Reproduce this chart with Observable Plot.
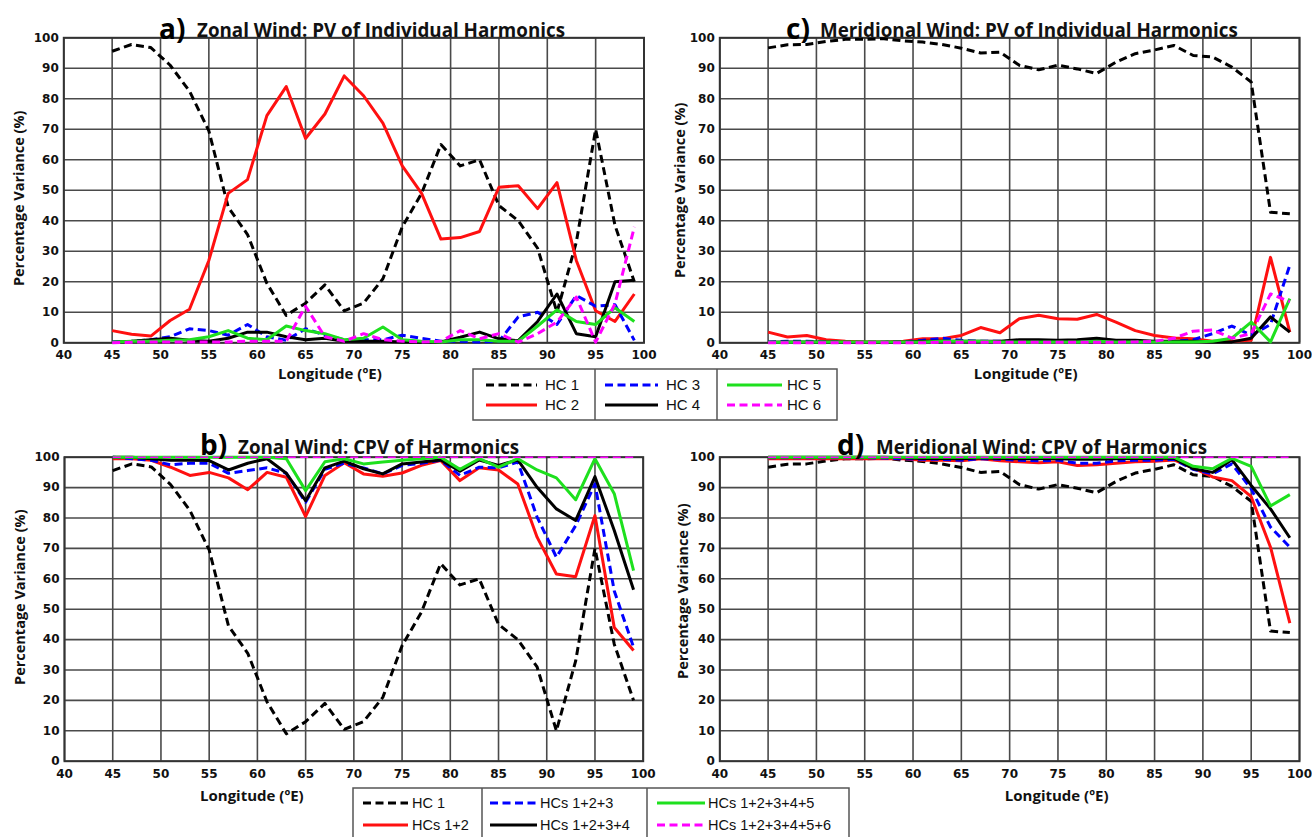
<!DOCTYPE html>
<html><head><meta charset="utf-8">
<script src="https://cdn.jsdelivr.net/npm/d3@7"></script>
<script src="https://cdn.jsdelivr.net/npm/@observablehq/plot@0.6"></script>
<style>
body{margin:0;background:#fff;}
#page{position:relative;width:1312px;height:837px;overflow:hidden;background:#fff;}
.panel{position:absolute;}
#overlay{position:absolute;left:0;top:0;pointer-events:none;}
</style></head><body><div id="page"></div>
<script>
// ---------- data ----------
const lon = [45,47,49,51,53,55,57,59,61,63,65,67,69,71,73,75,77,79,81,83,85,87,89,91,93,95,97,99];
const xTicks = [40,45,50,55,60,65,70,75,80,85,90,95,100];
const yTicks = [0,10,20,30,40,50,60,70,80,90,100];

// a) Zonal wind: PV of individual harmonics
const zonalHC1 = [95.6,97.8,96.8,91,82.5,69.5,44.5,35.5,19.5,9,13,19,10.5,13,21,38,49,65,58,60,45,40,31,10,33,70,38.5,20];
const zonalHC2 = [4,2.8,2.2,7.3,11,27,49,53.5,74.5,84,67,75,87.5,81,72,58,49,34,34.5,36.5,51,51.5,44,52.5,27,10.5,7,16];
const zonalHC3 = [0.3,0.5,1,2,4.6,4,2.5,6,2,0.8,4.6,2.5,1,1,1,2.5,1.5,0.5,0.5,0.3,0.5,8.5,10,6,15.5,12,12.5,0.8];
const zonalHC4 = [0.2,0.5,1,1.5,0.8,0.5,1.5,3.5,3.5,2,1,1.5,0.5,0.5,0.5,0.3,0.2,0.3,1.8,3.5,1.3,0.7,7,16,3,2,20,20.5];
const zonalHC5 = [0.2,0.5,0.5,0.8,1,2,4,1.5,1,5.5,4,3,1,1.5,5.2,1,0.5,0.3,1,1,0.5,0.5,5.5,10.8,7,6,11.5,7];
const zonalHC6 = [0,0.2,0.3,0.3,0.3,0.3,0.3,0.5,0.5,0.5,12,2,0.5,3,1,0.5,0.3,0.5,4,1.3,3,0.2,3,6.8,15,0.2,12.8,38];

// c) Meridional wind: PV of individual harmonics
const meridHC1 = [96.7,97.7,97.8,98.8,99.5,99.5,99.7,99,98.6,97.8,96.6,95,95.3,91,89.5,91,89.8,88.3,92,94.8,96,97.5,94.2,93.7,90.4,85.5,42.8,42.3];
const meridHC2 = [3.5,1.9,2.4,1,0.5,0.3,0.3,0.5,1.3,1.3,2.4,5,3.3,7.9,9,7.9,7.7,9.3,6.8,4,2.4,1.6,1.3,0.5,0.5,0.8,28,3.5];
const meridHC3 = [0.3,0.5,0.5,0.3,0.2,0.2,0.2,0.3,0.8,1.5,0.8,0.5,0.5,0.5,0.5,0.5,0.5,0.5,0.3,0.3,0.3,0.5,1,3,5.5,2.5,6,25.5];
const meridHC4 = [0.2,0.3,0.3,0.3,0.2,0.2,0.2,0.3,0.5,0.5,0.5,0.5,0.5,1,1,0.8,1,1.5,0.8,0.8,0.5,0.5,0.5,0.3,0.3,1.5,8.5,3.5];
const meridHC5 = [0.2,0.2,0.3,0.3,0.3,0.3,0.3,0.3,0.3,0.5,0.5,0.5,0.3,0.3,0.3,0.3,0.3,0.5,0.3,0.3,0.3,0.3,0.3,0.5,1.5,6.8,0.3,14.5];
const meridHC6 = [0,0,0,0,0,0,0,0,0,0.2,0.2,0.2,0.2,0.2,0.2,0.2,0.2,0.2,0.2,0.3,0.5,1.5,3.8,4.2,1.5,3,16,13.5];

// b) Zonal wind: CPV of harmonics
const cpvZ12 = [99.5,99.5,99,96.7,94,95,93.2,89.3,95,93.4,80.5,94,98.2,94.5,93.7,94.8,97.3,98.9,92.3,96.5,95.8,91.2,73.7,61.6,60.7,80.8,44,36.4];
const cpvZ123 = [100,99.5,99,97.5,98,98,94.7,95.6,96.5,94.7,85.2,96,98,96.5,94.5,97.3,98,99,94,96.7,96.5,98.4,80.3,67.1,77.5,91.2,56,37.5];
const cpvZ1234 = [100,100,99.5,99,99,98.9,95.8,98,99.5,94.7,85.7,96.5,98.7,96.2,94.5,97.8,98.4,99.1,95.4,99.1,97.3,99.1,90.1,83,79.2,93.6,75.9,56.4];
const cpvZ12345 = [100,100,100,100,100,100,100,100,100,99.5,89,98.5,99.5,97.8,98.4,99,99.5,100,96,99.5,96.7,99.5,95.8,93.2,86,99.5,88,62.7];
const cpvZ123456 = [100,100,100,100,100,100,100,100,100,100,100,100,100,100,100,100,100,100,100,100,100,100,100,100,100,100,100,100];

// d) Meridional wind: CPV of harmonics
const cpvM12 = [99.5,99.5,99.5,99.5,99.5,99.5,99.5,99.5,99,99,98.8,99.5,98.8,98.5,98.2,98.5,97.3,97.5,98,98.5,98.7,99.1,96.5,93.5,92.3,87,70.4,45.4];
const cpvM123 = [99.8,99.8,99.8,99.8,99.8,99.8,99.7,99.5,99.3,99.3,99,99.5,99.3,99,98.8,99,98,98,98.8,99,99,99.3,96,94.5,97.8,89.6,77,70.4];
const cpvM1234 = [100,100,100,100,100,100,100,99.8,99.6,99.6,99.5,99.8,99.6,99.5,99.5,99.5,99.3,99.3,99.5,99.6,99.6,99.7,96.2,95,99.2,90.7,83,73.5];
const cpvM12345 = [100,100,100,100,100,100,100,100,100,100,100,100,100,100,100,100,100,100,100,100,100,100,97,96.2,99.6,97,84,87.7];
const cpvM123456 = [100,100,100,100,100,100,100,100,100,100,100,100,100,100,100,100,100,100,100,100,100,100,100,100,100,100,100,100];

const legendTop = ["HC 1","HC 2","HC 3","HC 4","HC 5","HC 6"];
const legendBottom = ["HC 1","HCs 1+2","HCs 1+2+3","HCs 1+2+3+4","HCs 1+2+3+4+5","HCs 1+2+3+4+5+6"];
const titles = [
  {tag:"a)", text:"Zonal Wind: PV of Individual Harmonics"},
  {tag:"b)", text:"Zonal Wind: CPV of Harmonics"},
  {tag:"c)", text:"Meridional Wind: PV of Individual Harmonics"},
  {tag:"d)", text:"Meridional Wind: CPV of Harmonics"}
];
const xLabel = "Longitude (ºE)";
const yLabel = "Percentage Variance (%)";

// ---------- styles ----------
const BLACK = "#000", RED = "#ff1010", BLUE = "#0000ff", GREEN = "#1ee01e", MAGENTA = "#ff00ff";
const DASH = "8,4.5";
const styles = [
  {color: BLACK, dash: DASH},
  {color: RED},
  {color: BLUE, dash: DASH},
  {color: BLACK},
  {color: GREEN},
  {color: MAGENTA, dash: DASH}
];

function rows(vals){ return lon.map((l,i)=>({lon:l, v:vals[i]})); }

const page = document.getElementById("page");

function makePanel(cfg){
  const {left, top, width, height, frame, series, xdx, xdy, ydx, ydy, order} = cfg;
  const [fx0, fy0, fx1, fy1] = frame;
  const lineMarks = order.map(k => {
    const st = styles[k];
    return Plot.line(rows(series[k]), {
      x: "lon", y: "v", stroke: st.color,
      strokeWidth: (cfg.thin && k === 5) ? 1.6 : 3,
      strokeDasharray: st.dash, strokeLinejoin: "round", strokeLinecap: "butt"
    });
  });
  const chart = Plot.plot({
    width, height,
    marginLeft: fx0 - left, marginRight: left + width - fx1,
    marginTop: fy0 - top, marginBottom: top + height - fy1,
    x: {domain: [40, 100], ticks: xTicks, tickSize: 0, tickPadding: 8, label: null, tickFormat: d => String(d)},
    y: {domain: [0, 100], ticks: yTicks, tickSize: 0, tickPadding: 5, label: null, tickFormat: d => String(d)},
    style: {fontFamily: "DejaVu Sans", fontWeight: "bold", fontSize: "12px", color: "#111", background: "transparent", overflow: "visible"},
    marks: [
      Plot.ruleX(xTicks, {stroke: "#4a4a4a", strokeWidth: 1.6}),
      Plot.ruleY(yTicks, {stroke: "#4a4a4a", strokeWidth: 1.6}),
      Plot.frame({stroke: "#333", strokeWidth: 2}),
      ...lineMarks,
      Plot.text([xLabel], {frameAnchor: "bottom", text: d => d, textAnchor: "middle", lineAnchor: "middle", dx: xdx, dy: xdy, fontFamily: "Open Sans", fontWeight: "bold", fontSize: 15, fill: "#111"}),
      Plot.text([yLabel], {frameAnchor: "left", text: d => d, textAnchor: "middle", lineAnchor: "middle", rotate: -90, dx: ydx, dy: ydy, fontFamily: "Open Sans", fontWeight: "bold", fontSize: 14.5, fill: "#111"})
    ]
  });
  const div = document.createElement("div");
  div.className = "panel";
  div.style.left = left + "px"; div.style.top = top + "px";
  div.style.width = width + "px"; div.style.height = height + "px";
  div.appendChild(chart);
  page.appendChild(div);
}

makePanel({left:0, top:0, width:656, height:390, frame:[63.3,37.3,643.5,342.3],
  series:[zonalHC1,zonalHC2,zonalHC3,zonalHC4,zonalHC5,zonalHC6], order:[0,1,2,3,4,5],
  xdx:-24, xdy:31, ydx:-44, ydy:8});
makePanel({left:656, top:0, width:656, height:390, frame:[719.3,37.3,1299,342.3],
  series:[meridHC1,meridHC2,meridHC3,meridHC4,meridHC5,meridHC6], order:[0,1,2,3,4,5],
  xdx:16, xdy:31, ydx:-39, ydy:0});
makePanel({left:0, top:418, width:656, height:419, frame:[64,456.7,642.7,760.7],
  series:[zonalHC1,cpvZ12,cpvZ123,cpvZ1234,cpvZ12345,cpvZ123456], order:[0,1,2,3,4,5], thin:true,
  xdx:-102, xdy:35, ydx:-44, ydy:-12});
makePanel({left:656, top:418, width:656, height:419, frame:[719.3,456.7,1299,760.7],
  series:[meridHC1,cpvM12,cpvM123,cpvM1234,cpvM12345,cpvM123456], order:[0,1,2,3,4,5], thin:true,
  xdx:47, xdy:35, ydx:-36, ydy:-18});

// ---------- overlay: titles and legends ----------
const NS = "http://www.w3.org/2000/svg";
const ov = document.createElementNS(NS, "svg");
ov.setAttribute("id", "overlay");
ov.setAttribute("width", 1312); ov.setAttribute("height", 837);
page.appendChild(ov);
function el(name, attrs, text){
  const e = document.createElementNS(NS, name);
  for (const k in attrs) e.setAttribute(k, attrs[k]);
  if (text != null) e.textContent = text;
  ov.appendChild(e); return e;
}
const titlePos = [
  {tx:159, ty:39, x:197, y:37},
  {tx:200, ty:455, x:238, y:454},
  {tx:786, ty:39, x:820, y:37},
  {tx:837, ty:455, x:876, y:454}
];
titles.forEach((t, i) => {
  const p = titlePos[i];
  el("text", {x:p.tx, y:p.ty, "font-family":"Open Sans", "font-weight":"bold", "font-size":28, fill:"#000"}, t.tag);
  el("text", {x:p.x, y:p.y, "font-family":"Open Sans", "font-weight":"bold", "font-size":18.8, fill:"#111"}, t.text);
});

function legend(box, dividers, cols, rowsY, labels, fontSize){
  el("rect", {x:box[0], y:box[1], width:box[2], height:box[3], fill:"#fff", stroke:"#555", "stroke-width":1.5});
  dividers.forEach(dx => el("line", {x1:dx, x2:dx, y1:box[1], y2:box[1]+box[3], stroke:"#555", "stroke-width":1.5}));
  labels.forEach((lab, i) => {
    const c = cols[Math.floor(i/2)], ry = rowsY[i%2], st = styles[i];
    el("line", {x1:c[0], x2:c[1], y1:ry, y2:ry, stroke:st.color, "stroke-width":3, "stroke-dasharray": st.dash || "none"});
    el("text", {x:c[2], y:ry+5, "font-family":"Liberation Sans", "font-size":fontSize, fill:"#111"}, lab);
  });
}
legend([473,369,364,51], [595,717], [[486,537,545],[605,658,666],[727,782,787]], [385,405], legendTop, 15);
legend([353,788,496,60], [482,647], [[363,408,412],[490,537,540],[657,705,708]], [803,825], legendBottom, 14.5);
</script></body></html>
